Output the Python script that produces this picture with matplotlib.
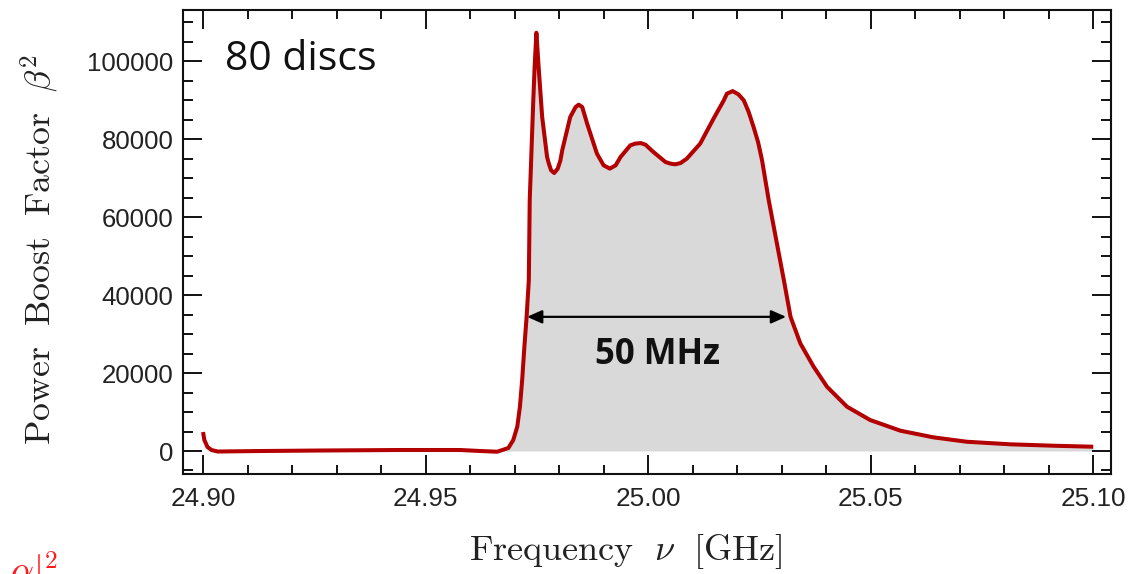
import matplotlib
matplotlib.use("Agg")
import matplotlib.pyplot as plt
from matplotlib.ticker import MultipleLocator, FixedLocator
import numpy as np

# Boost factor spectrum of an 80-disc booster (frequency in GHz, beta^2)
freq_ghz = [
    24.9000, 24.9003, 24.9010, 24.9019, 24.9033, 24.9129, 24.9264, 24.9444,
    24.9578, 24.9623, 24.9661, 24.9686, 24.9697, 24.9706, 24.9712, 24.9717,
    24.9722, 24.9727, 24.9732, 24.9734, 24.9742, 24.9745, 24.9749, 24.9754,
    24.9762, 24.9773, 24.9777, 24.9782, 24.9789, 24.9797, 24.9803, 24.9807,
    24.9825, 24.9837, 24.9844, 24.9852, 24.9863, 24.9885, 24.9900, 24.9914,
    24.9927, 24.9938, 24.9960, 24.9971, 24.9983, 24.9994, 25.0012, 25.0039,
    25.0050, 25.0061, 25.0073, 25.0087, 25.0117, 25.0147, 25.0170, 25.0177,
    25.0190, 25.0203, 25.0215, 25.0226, 25.0237, 25.0247, 25.0256, 25.0271,
    25.0288, 25.0305, 25.0320, 25.0342, 25.0372, 25.0402, 25.0447, 25.0499,
    25.0567, 25.0641, 25.0716, 25.0814, 25.0911, 25.1000,
]
boost = [
    4870, 2820, 1030, 260, -130, 0, 130, 260,
    260, 0, -180, 770, 2820, 6230, 11360, 18200,
    26740, 34440, 43850, 64360, 90000, 98540, 107360, 98540,
    85720, 75460, 73770, 72050, 71360, 72490, 74620, 77180,
    85720, 88280, 88900, 88280, 84030, 76330, 73330, 72490,
    73330, 75460, 78460, 78900, 79050, 78640, 76740, 74180,
    73770, 73590, 73920, 75050, 78900, 85310, 90000, 91720,
    92380, 91540, 90000, 87000, 83150, 79310, 74620, 64360,
    54100, 43850, 34440, 27620, 21620, 16490, 11360, 7950,
    5210, 3510, 2380, 1720, 1360, 1100,
]

# Bandwidth marker
band_lo, band_hi, band_level = 24.9728, 25.0310, 34440
band_label = "50 MHz"
label_pos = (25.0021, 24600)

x_major = [24.90, 24.95, 25.00, 25.05, 25.10]
x_labels = ["24.90", "24.95", "25.00", "25.05", "25.10"]

plt.rcParams["mathtext.fontset"] = "cm"

fig = plt.figure(figsize=(11.33, 5.74), dpi=100)
ax = fig.add_axes([183 / 1133, 100 / 574, 928 / 1133, 464 / 574])

f = np.array(freq_ghz)
b = np.array(boost)
band = f >= 24.9661
ax.fill_between(f[band], b[band], 0, color="#d9d9d9", lw=0, zorder=1)
ax.plot(f, b, color="#b30000", lw=2.9, solid_joinstyle="round",
        solid_capstyle="butt", zorder=3)

ax.annotate("", xy=(band_lo, band_level), xytext=(band_hi, band_level),
            arrowprops=dict(arrowstyle="<|-|>,head_length=0.9,head_width=0.4",
                            color="black", lw=1.6, shrinkA=0, shrinkB=0),
            zorder=4)
ax.text(label_pos[0], label_pos[1], band_label, ha="center", va="center",
        fontsize=25, fontweight="bold", family="Open Sans", color="#111111",
        zorder=4)

ax.text(0.045, 0.871, "80 discs", transform=ax.transAxes, ha="left",
        va="baseline", fontsize=29.5, family="Open Sans", color="#111111")

ax.set_xlim(24.8955, 25.104)
ax.set_ylim(-5900, 113200)

ax.xaxis.set_major_locator(FixedLocator(x_major))
ax.set_xticklabels(x_labels)
ax.xaxis.set_minor_locator(MultipleLocator(0.01))
ax.yaxis.set_major_locator(MultipleLocator(20000))
ax.yaxis.set_minor_locator(MultipleLocator(5000))

for s in ax.spines.values():
    s.set_linewidth(1.5)
    s.set_color("#111111")

ax.tick_params(which="both", direction="in", top=True, right=True,
               color="#111111", width=1.4)
ax.tick_params(which="major", length=13.5)
ax.tick_params(axis="x", which="minor", length=6.2)
ax.tick_params(axis="y", which="minor", length=7.2)
ax.tick_params(axis="x", which="major", pad=9, labelsize=18.8,
               labelcolor="#222222")
ax.tick_params(axis="y", which="major", pad=7, labelsize=18.5,
               labelcolor="#222222")
for lab in ax.get_xticklabels() + ax.get_yticklabels():
    lab.set_family("Liberation Sans")

fig.text(625.5 / 1133, 14 / 574,
         r"$\mathrm{Frequency}\ \ \nu\ \ \mathrm{[GHz]}$",
         ha="center", va="baseline", fontsize=26, color="#222222")
fig.text(50 / 1133, (574 - 250) / 574,
         r"$\mathrm{Power\ \ Boost\ \ Factor}\ \ \beta^2$",
         rotation=90, rotation_mode="anchor", ha="center", va="baseline",
         fontsize=25.8, color="#222222")

fig.text(10 / 1133, -8 / 574, r"$\alpha|^2$", ha="left", va="baseline",
         fontsize=26, color="#ff1a1a")

fig.savefig("out.png", dpi=100)
